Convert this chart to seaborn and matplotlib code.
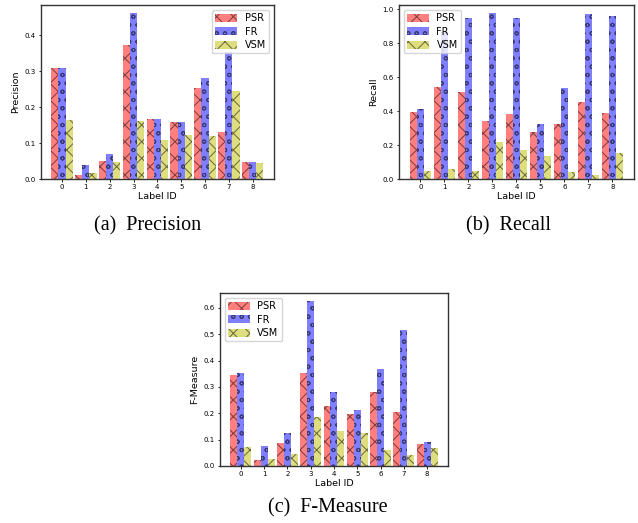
import pandas as pd
import numpy as np
import matplotlib
matplotlib.use('Agg')
import matplotlib.pyplot as plt
import seaborn as sns

labels = [0, 1, 2, 3, 4, 5, 6, 7, 8]
methods = ['PSR', 'FR', 'VSM']

# precision per label id
prec_psr = [0.308, 0.011, 0.050, 0.372, 0.167, 0.158, 0.253, 0.131, 0.047]
prec_fr = [0.308, 0.038, 0.069, 0.461, 0.167, 0.158, 0.281, 0.354, 0.047]
prec_vsm = [0.164, 0.017, 0.047, 0.161, 0.108, 0.122, 0.119, 0.244, 0.044]

# recall
rec_psr = [0.394, 0.541, 0.512, 0.341, 0.382, 0.276, 0.324, 0.453, 0.388]
rec_fr = [0.412, 0.865, 0.947, 0.976, 0.947, 0.324, 0.535, 0.971, 0.959]
rec_vsm = [0.047, 0.059, 0.047, 0.218, 0.171, 0.135, 0.041, 0.024, 0.153]

# f-measure
f_psr = [0.346, 0.021, 0.086, 0.354, 0.229, 0.199, 0.282, 0.203, 0.082]
f_fr = [0.354, 0.074, 0.127, 0.625, 0.282, 0.214, 0.369, 0.517, 0.090]
f_vsm = [0.071, 0.025, 0.045, 0.184, 0.131, 0.127, 0.059, 0.042, 0.067]

plt.rcParams['hatch.linewidth'] = 0.75
plt.rcParams['axes.linewidth'] = 1.0
plt.rcParams['font.family'] = 'DejaVu Sans'

hatches = ['xx', 'oo', 'xx']
colors = ['r', 'b', 'y']


def make_df(psr, fr, vsm):
    rows = []
    for name, vals in zip(methods, [psr, fr, vsm]):
        for lab, v in zip(labels, vals):
            rows.append({'label': str(lab), 'value': v, 'method': name})
    return pd.DataFrame(rows)


def draw(ax, df, ylabel, loc, yticks):
    sns.barplot(data=df, x='label', y='value', hue='method', palette=colors,
                alpha=0.5, width=0.9, saturation=1, edgecolor='k', linewidth=0,
                legend=False, ax=ax, errorbar=None)
    for cont, h in zip(ax.containers, hatches):
        for bar in cont:
            bar.set_hatch(h)
    ax.set_xlim(-0.895, 8.895)
    ax.set_ylim(0, max(df['value']) * 1.05)
    ax.set_yticks(yticks)
    ax.set_xlabel('Label ID', fontsize=6.8, labelpad=1.5)
    ax.set_ylabel(ylabel, fontsize=6.8, labelpad=3)
    ax.tick_params(labelsize=5, length=1.8, width=0.6, pad=2)
    for s in ax.spines.values():
        s.set_color('#333333')
    ax.legend(ax.containers, methods, loc=loc, fontsize=7,
              handlelength=2.2, handleheight=0.9, labelspacing=0.35,
              borderpad=0.35, handletextpad=0.8)


fig = plt.figure(figsize=(6.38, 5.23), dpi=100)
ax1 = fig.add_axes([0.0638, 0.6577, 0.3657, 0.3327])
ax2 = fig.add_axes([0.6254, 0.6577, 0.3683, 0.3327])
ax3 = fig.add_axes([0.3448, 0.1090, 0.3574, 0.3308])

draw(ax1, make_df(prec_psr, prec_fr, prec_vsm), 'Precision', 'upper right',
     [0.0, 0.1, 0.2, 0.3, 0.4])
draw(ax2, make_df(rec_psr, rec_fr, rec_vsm), 'Recall', 'upper left',
     [0.0, 0.2, 0.4, 0.6, 0.8, 1.0])
draw(ax3, make_df(f_psr, f_fr, f_vsm), 'F-Measure', 'upper left',
     [0.0, 0.1, 0.2, 0.3, 0.4, 0.5, 0.6])

cap = dict(ha='center', va='center', fontsize=14.5, family='Liberation Serif')
fig.text(148 / 638, 1 - 226 / 523, '(a)  Precision', **cap)
fig.text(508 / 638, 1 - 226 / 523, '(b)  Recall', **cap)
fig.text(328 / 638, 1 - 508 / 523, '(c)  F-Measure', **cap)

fig.savefig('out.png', dpi=100)
